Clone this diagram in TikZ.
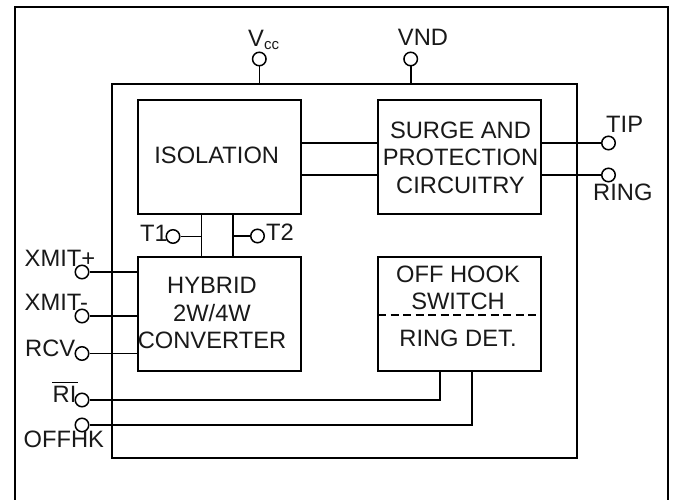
\documentclass[tikz,border=0pt]{standalone}
\usepackage{fontspec}
\setmainfont{Liberation Sans}
\tikzset{x=1pt,y=-1pt,
 frame/.style={draw=black,line width=2pt},
 wire/.style={draw=black,line width=1.6pt},
 block/.style={draw=black,line width=1.7pt,fill=none,minimum width=163pt,minimum height=114pt,inner sep=0pt},
 pin/.style={circle,draw=black,line width=1.5pt,fill=none,minimum size=13.5pt,inner sep=0pt},
 lab/.style={font=\fontsize{23.7}{27.5}\selectfont,inner sep=0pt,text=black!90,align=center}}
\begin{document}
\begin{tikzpicture}
\useasboundingbox (0,0) rectangle (674,500);
\path[fill=white] (0,0) rectangle (674,500);
\draw[frame] (14.5,500) -- (14.5,7) -- (668,7) -- (668,500);
\node[minimum width=465pt,minimum height=373pt,inner sep=0pt,frame] (ic) at (344.5,271) {};
\node[block] (iso) at (219.5,157) {};
\node[block] (surge) at (459.5,157) {};
\node[block] (hyb) at (219.5,314) {};
\node[block] (off) at (459.5,314) {};
\node[lab] (isot) at (216.7,155) {ISOLATION};
\node[lab] (surget) at (460.5,157.5) {SURGE AND\\PROTECTION\\CIRCUITRY};
\node[lab] (hybt) at (212,313) {HYBRID\\2W/4W\\CONVERTER};
\node[lab] (offt) at (458,274.3) {OFF HOOK};
\node[lab] (swt) at (458,301.7) {SWITCH};
\node[lab] (rdt) at (458,338.3) {RING DET.};
\coordinate (da) at (378,315);
\coordinate (db) at (541,315);
\draw[wire,dash pattern=on 8pt off 4.5pt] (da) -- (db);
\node[pin] (vcc) at (259.3,59) {};
\node[pin] (vnd) at (410.7,59) {};
\node[pin] (tip) at (608.5,143) {};
\node[pin] (ring) at (608.5,175) {};
\node[pin] (t1) at (173,236.5) {};
\node[pin] (t2) at (257.5,236) {};
\node[pin] (xp) at (82,272) {};
\node[pin] (xm) at (82,316) {};
\node[pin] (rcv) at (82,353.5) {};
\node[pin] (ri) at (82,400) {};
\node[pin] (oh) at (82,425) {};
\node[lab,anchor=base west] (vl) at (248,46.5) {V\raisebox{-3pt}{\fontsize{15}{15}\selectfont cc}};
\node[lab,anchor=base] (vndl) at (423,46) {VND};
\node[lab,anchor=base west] (tipl) at (606,132) {TIP};
\node[lab,anchor=base west] (ringl) at (593,200) {RING};
\node[lab,anchor=base west] (t1l) at (140,241.5) {T1};
\node[lab,anchor=base west] (t2l) at (266,240) {T2};
\node[lab,anchor=base west] (xpl) at (24.5,266) {XMIT+};
\node[lab,anchor=base west] (xml) at (24.5,310) {XMIT-};
\node[lab,anchor=base west] (rcvl) at (25,356) {RCV};
\node[lab,anchor=base west] (ril) at (52.5,402.7) {RI};
\coordinate (ova) at (52,382.7);
\coordinate (ovb) at (78,382.7);
\draw[wire,line width=1pt] (ova) -- (ovb);
\node[lab,anchor=base west] (ohl) at (23.5,447.7) {OFFHK};
\draw[wire] (vcc) -- (vcc |- ic.north);
\draw[wire] (vnd) -- (vnd |- ic.north);
\coordinate (i1) at (301,143); \coordinate (s1) at (378,143);
\coordinate (i2) at (301,175); \coordinate (s2) at (378,175);
\draw[wire] (i1) -- (s1);
\draw[wire] (i2) -- (s2);
\draw[wire] (surge.east |- tip) -- (tip);
\draw[wire] (surge.east |- ring) -- (ring);
\coordinate (ta) at (201.5,214); \coordinate (tb) at (233,214);
\draw[wire] (ta) -- (ta |- hyb.north);
\draw[wire] (tb) -- (tb |- hyb.north);
\draw[wire] (t1) -- (ta |- t1);
\draw[wire] (t2) -- (tb |- t2);
\draw[wire] (xp) -- (hyb.west |- xp);
\draw[wire] (xm) -- (hyb.west |- xm);
\draw[wire] (rcv) -- (hyb.west |- rcv);
\coordinate (ra) at (440,371); \coordinate (oa) at (471.7,371);
\draw[wire] (ri) -- (ra |- ri) -- (ra);
\draw[wire] (oh) -- (oa |- oh) -- (oa);
\end{tikzpicture}
\end{document}
